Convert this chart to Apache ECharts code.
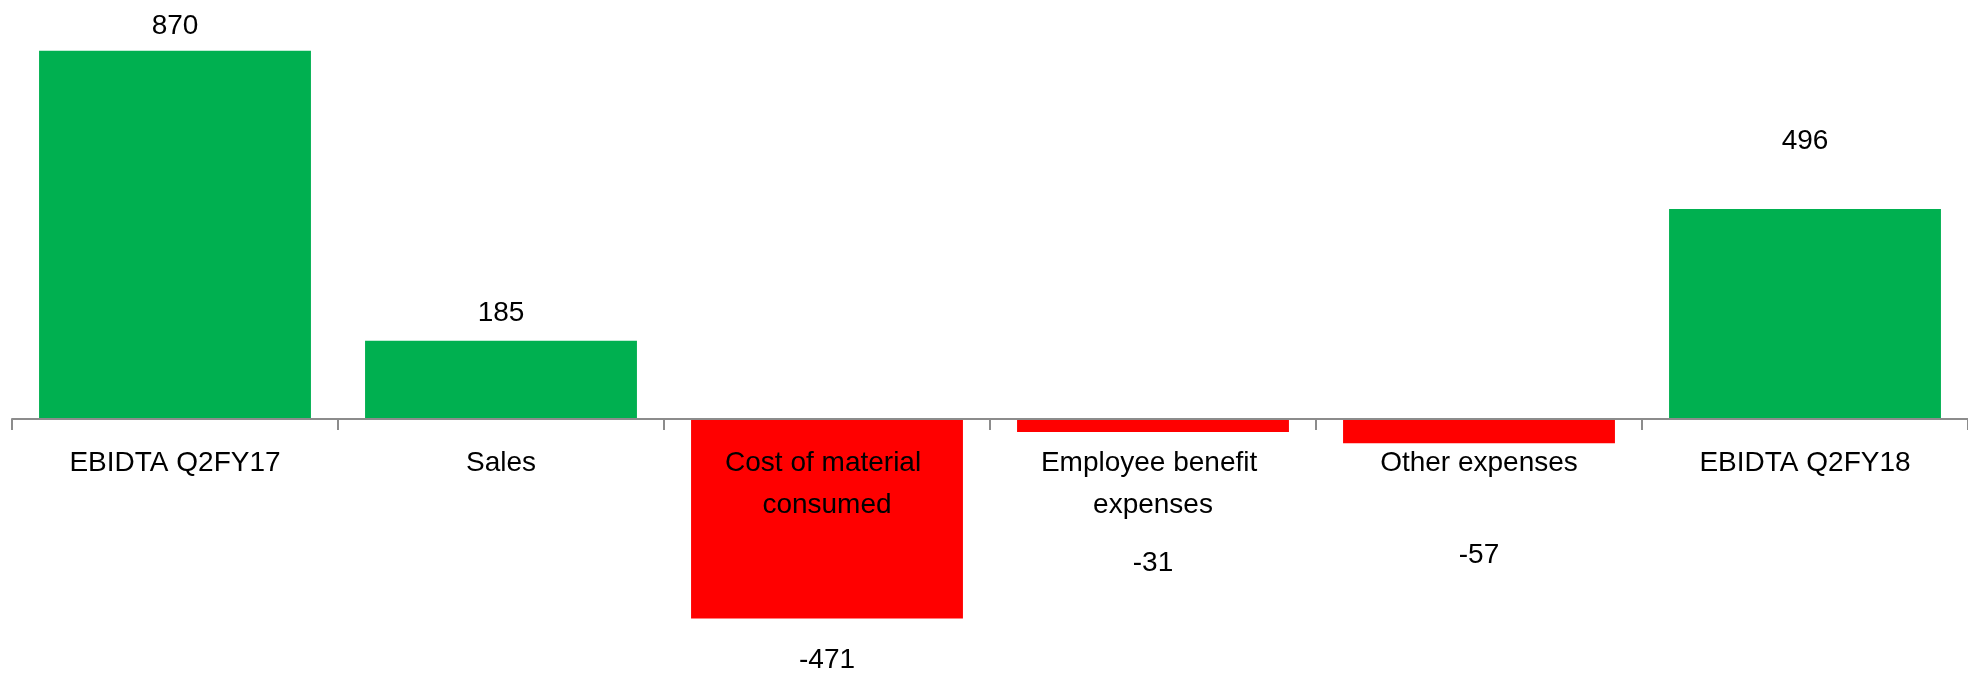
<!DOCTYPE html>
<html>
<head>
<meta charset="utf-8">
<script src="https://cdn.jsdelivr.net/npm/echarts@6/dist/echarts.min.js"></script>
<style>
html,body{margin:0;padding:0;background:#fff;}
#chart{width:1968px;height:675px;}
</style>
</head>
<body>
<div id="chart"></div>
<script>
const categories = ['EBIDTA Q2FY17', 'Sales', 'Cost of material consumed', 'Employee benefit expenses', 'Other expenses', 'EBIDTA Q2FY18'];
const values = [870, 185, -471, -31, -57, 496];

const GREEN = '#00B050';
const RED = '#FF0000';
// label gaps (px) between bar end and value label, as placed in the original
const labelGaps = [9, 12, 27, 116, 97, 53];

const Y_MIN = -600, Y_MAX = 900;
const GRID_TOP = 38, GRID_BOTTOM = 2, H = 675;
const gridH = H - GRID_TOP - GRID_BOTTOM;
// distance from grid bottom up to the zero line
const zeroFromBottom = gridH * (0 - Y_MIN) / (Y_MAX - Y_MIN);

const chart = echarts.init(document.getElementById('chart'), null, {renderer: 'canvas'});
const FONT = 'Liberation Sans';

const seriesData = values.map((v, i) => ({
  value: v,
  itemStyle: {color: v >= 0 ? GREEN : RED},
  label: {position: v >= 0 ? 'top' : 'bottom', distance: labelGaps[i]}
}));

chart.setOption({
  backgroundColor: '#ffffff',
  animation: false,
  grid: {left: 12, right: 0, top: GRID_TOP, bottom: GRID_BOTTOM, containLabel: false, outerBoundsMode: 'none'},
  xAxis: {
    type: 'category',
    data: categories,
    position: 'bottom',
    offset: -zeroFromBottom,
    z: 10,
    axisLine: {onZero: false, lineStyle: {color: '#8c8c8c', width: 2}},
    axisTick: {show: true, alignWithLabel: false, length: 11, lineStyle: {color: '#8c8c8c', width: 2}},
    axisLabel: {
      color: '#000', fontFamily: FONT, fontSize: 28, lineHeight: 42,
      margin: 23, width: 260, overflow: 'break', interval: 0
    },
    splitLine: {show: false}
  },
  yAxis: {
    type: 'value', min: Y_MIN, max: Y_MAX, show: false,
    splitLine: {show: false}
  },
  series: [{
    type: 'bar',
    data: seriesData,
    barCategoryGap: '16.6%',
    label: {show: true, color: '#000', fontFamily: FONT, fontSize: 28, lineHeight: 30}
  }]
});
</script>
</body>
</html>
